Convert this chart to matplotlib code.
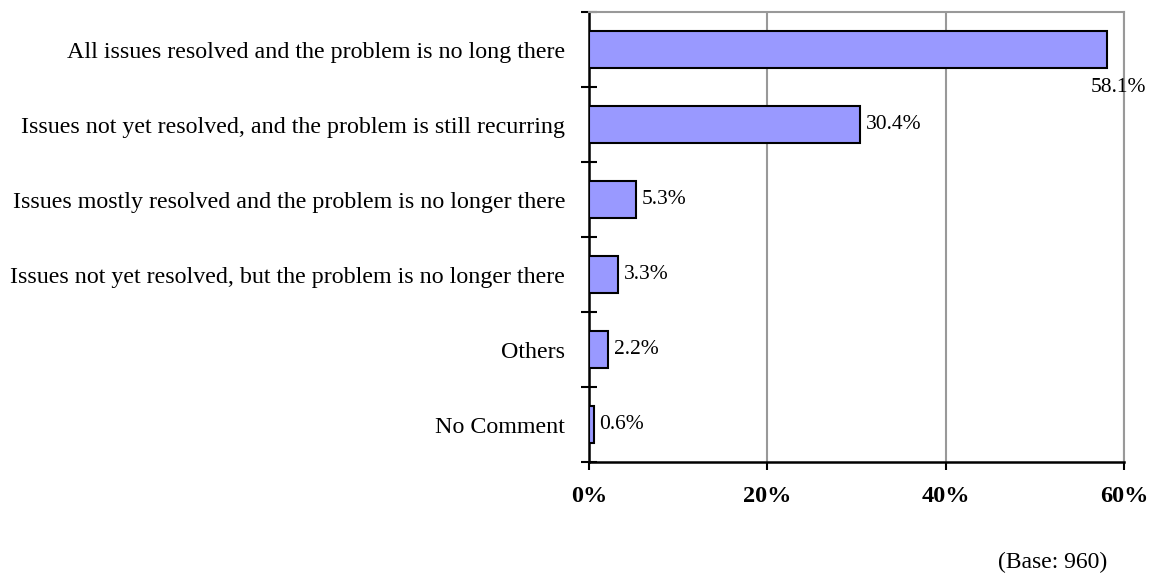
import matplotlib.pyplot as plt
import matplotlib.ticker as mticker

plt.rcParams['font.family'] = ['Liberation Serif', 'DejaVu Serif']

categories = [
    'All issues resolved and the problem is no long there',
    'Issues not yet resolved, and the problem is still recurring',
    'Issues mostly resolved and the problem is no longer there',
    'Issues not yet resolved, but the problem is no longer there',
    'Others',
    'No Comment',
]
values = [58.1, 30.4, 5.3, 3.3, 2.2, 0.6]
xticks = [0, 20, 40, 60]

fig = plt.figure(figsize=(11.59, 5.74), dpi=100)
ax = fig.add_axes([0.508, 0.195, 0.462, 0.784])

n = len(categories)
ypos = [n - 1 - i for i in range(n)]
ax.barh(ypos, values, height=0.5, color='#9999FF', edgecolor='black', linewidth=1.5, zorder=3)

for y, v in zip(ypos, values):
    if v > 50:
        ax.text(v + 1.3, y - 0.51, f'{v:.1f}%', ha='center', va='center', fontsize=15.5, zorder=4)
    else:
        ax.text(v + 0.6, y, f'{v:.1f}%', ha='left', va='center', fontsize=15.5, zorder=4)

ax.set_xlim(0, 60)
ax.set_ylim(-0.5, n - 0.5)
ax.set_xticks(xticks)
ax.xaxis.set_major_formatter(mticker.FuncFormatter(lambda x, p: f'{x:.0f}%'))
for lbl in ax.get_xticklabels():
    lbl.set_fontweight('bold')
ax.tick_params(axis='x', direction='out', length=6, width=1.5, labelsize=17.5, pad=11)

# category labels at bar centres, ticks at the boundaries
ax.set_yticks(ypos)
ax.set_yticklabels(categories, fontsize=17.25)
ax.tick_params(axis='y', which='major', length=0, pad=17)
ax.set_yticks([i - 0.5 for i in range(n + 1)], minor=True)
ax.tick_params(axis='y', which='minor', direction='inout', length=12, width=1.5)

ax.grid(axis='x', color='#999999', linewidth=1.5, zorder=0)
ax.spines['left'].set_linewidth(1.8)
ax.spines['bottom'].set_linewidth(1.8)
ax.spines['top'].set_color('#999999')
ax.spines['right'].set_color('#999999')
ax.spines['top'].set_linewidth(1.5)
ax.spines['right'].set_linewidth(1.5)

fig.text(0.955, 0.02, '(Base: 960)', ha='right', va='center', fontsize=17)

fig.savefig('out.png', dpi=100)
